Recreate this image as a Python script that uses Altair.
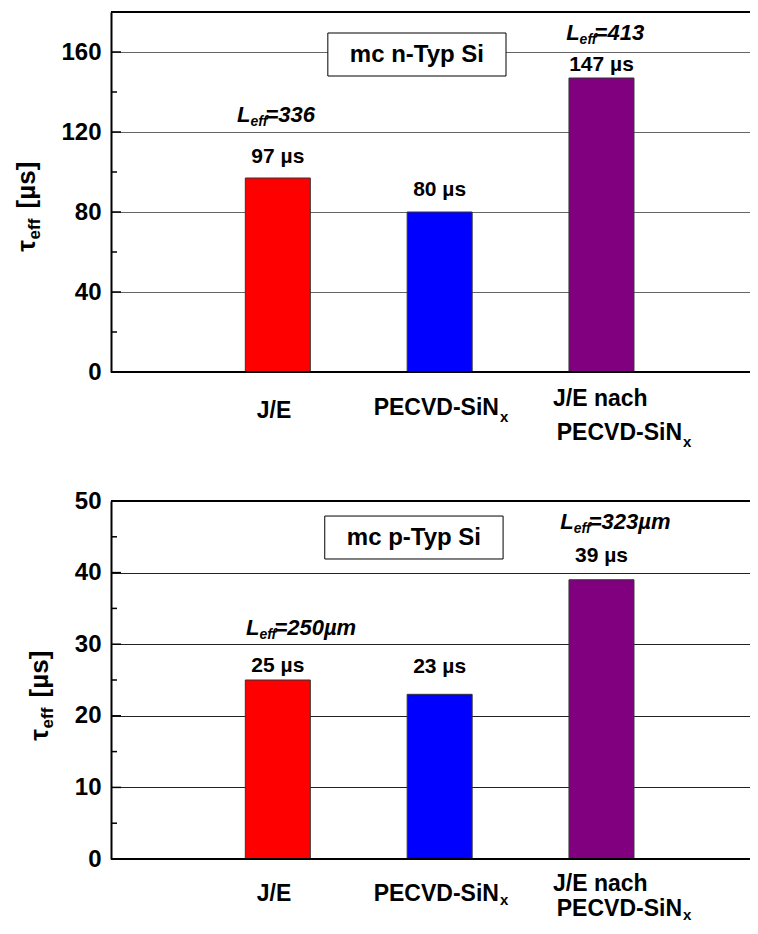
import altair as alt
import pandas as pd

FONT = "Liberation Sans"
PX = 164.4         # pixels per category unit
W = 639            # plot width (px); svg must stay within the 742 px body
XMAX = W / PX      # x domain end (category units)
LEFT, TOP = 111, 12   # page position of the plot origin
GH = 912              # group height (keeps page inside 934 px)

# ---------------- data ----------------
cat_pos = [1, 2, 3]
bar_colors = ["#FF0000", "#0000FF", "#800080"]

# top panel: mc n-Typ Si
n_tau = [97, 80, 147]
n_val_text = ["97 µs", "80 µs", "147 µs"]
n_val_y = [107.5, 91, 153.5]
n_leff_text = ["=336", "=413"]
n_leff_pos = [1, 3]
n_leff_y = [128.5, 169.5]
n_leff_dx = [-12.5, -7]
n_box = {"x": 1.309, "x2": 2.410, "y": 148, "y2": 169.5, "t": "mc n-Typ Si"}

# bottom panel: mc p-Typ Si
p_tau = [25, 23, 39]
p_val_text = ["25 µs", "23 µs", "39 µs"]
p_val_y = [26.9, 26.8, 42.3]
p_leff_text = ["=250µm", "=323µm"]
p_leff_pos = [1, 3]
p_leff_y = [32.2, 47.0]
p_leff_dx = [-3.5, -13]
p_box = {"x": 1.290, "x2": 2.392, "y": 41.9, "y2": 47.9, "t": "mc p-Typ Si"}

xscale = alt.Scale(domain=[0, XMAX], nice=False, zero=False)


def X(f="x"):
    return alt.X(f"{f}:Q", scale=xscale, axis=None, title=None)


def panel(tau, val_text, val_y, leff_text, leff_pos, leff_y, leff_dx, box,
          ymax, major, minor, y_top, y_bot, grid_color, title_x, lab):
    # y_top / y_bot: page y of the panel's top and bottom edges
    yscale = alt.Scale(domain=[0, ymax], nice=False, zero=True,
                       range=[y_bot - TOP, y_top - TOP])
    yaxis = alt.Axis(orient="left", values=major, grid=True, gridColor=grid_color,
                     gridWidth=1, ticks=False, domain=True, domainColor="black",
                     domainWidth=2, labelFont=FONT, labelFontSize=24,
                     labelFontWeight="bold", labelColor="black", labelPadding=10,
                     title=None)

    def Y(f="y"):
        return alt.Y(f"{f}:Q", scale=yscale, axis=yaxis, title=None)

    bars_df = pd.DataFrame({"x": cat_pos, "y": tau, "col": bar_colors})
    bars = alt.Chart(bars_df).mark_bar(size=65, stroke="#333", strokeWidth=1).encode(
        x=X(), y=Y(), color=alt.Color("col:N", scale=None))

    major_ticks = alt.Chart(pd.DataFrame({"y": major})).mark_rule(
        color="black", strokeWidth=1.5).encode(y=Y(), x=alt.value(0), x2=alt.value(10))
    minor_ticks = alt.Chart(pd.DataFrame({"y": minor})).mark_rule(
        color="black", strokeWidth=1.5).encode(y=Y(), x=alt.value(0), x2=alt.value(6))
    frame = alt.Chart(pd.DataFrame({"y": [0, ymax]})).mark_rule(
        color="black", strokeWidth=2).encode(y=Y(), x=alt.value(0), x2=alt.value(W))

    box_df = pd.DataFrame([box])
    box_rect = alt.Chart(box_df).mark_rect(fill="white", stroke="black", strokeWidth=1).encode(
        x=X("x"), x2="x2:Q", y=Y("y"), y2="y2:Q")
    box_text = alt.Chart(box_df).transform_calculate(
        cx="(datum.x + datum.x2) / 2", cy="(datum.y + datum.y2) / 2"
    ).mark_text(font=FONT, fontSize=24, fontWeight="bold", color="black",
                baseline="middle").encode(x=X("cx"), y=Y("cy"), text="t:N")

    val_df = pd.DataFrame({"x": cat_pos, "y": val_y, "t": val_text})
    vals = alt.Chart(val_df).mark_text(font=FONT, fontSize=21, fontWeight="bold",
                                       color="black", baseline="middle").encode(
        x=X(), y=Y(), text="t:N")

    leff_df = pd.DataFrame({"x": [p + d / PX for p, d in zip(leff_pos, leff_dx)],
                            "y": leff_y, "t": leff_text})
    SUBW = 15
    l_main = alt.Chart(leff_df).mark_text(font=FONT, fontSize=22, fontWeight="bold",
                                          fontStyle="italic", color="black", align="right",
                                          baseline="middle", dx=-SUBW, text="L").encode(x=X(), y=Y())
    l_sub = alt.Chart(leff_df).mark_text(font=FONT, fontSize=14, fontWeight="bold",
                                         fontStyle="italic", color="black", align="left",
                                         baseline="middle", dx=-SUBW, dy=7, text="eff").encode(x=X(), y=Y())
    l_rest = alt.Chart(leff_df).mark_text(font=FONT, fontSize=22, fontWeight="bold",
                                          fontStyle="italic", color="black", align="left",
                                          baseline="middle").encode(x=X(), y=Y(), text="t:N")

    def xlab(text, xpos, ay, align, size=23):
        return alt.Chart(pd.DataFrame({"x": [xpos], "t": [text]})).mark_text(
            font=FONT, fontSize=size, fontWeight="bold", color="black",
            align=align, baseline="middle").encode(
            x=X(), y=alt.value(ay - TOP), text="t:N")

    def at(cat, ax):
        return cat + (ax - LEFT - cat * PX) / PX

    xlabels = [
        xlab("J/E", at(1, 271.5), lab["je"], "center"),
        xlab("PECVD-SiN", at(2, 500), lab["pe"], "right"),
        xlab("x", at(2, 501), lab["pe"] + lab["sub"], "left", 15),
        xlab("J/E nach", at(3, 555), lab["nach"], "left"),
        xlab("PECVD-SiN", at(3, 686), lab["l2"], "right"),
        xlab("x", at(3, 687), lab["l2"] + lab["sub"], "left", 15),
    ]

    def ytitle(text, ax, ay, size):
        return alt.Chart(pd.DataFrame({"t": [text]})).mark_text(
            font=FONT, fontSize=size, fontWeight="bold", color="black",
            angle=270, align="center", baseline="middle").encode(
            x=alt.value(ax - LEFT), y=alt.value(ay - TOP), text="t:N")

    ytitles = [ytitle("[µs]", title_x, y_top + 173, 26),
               ytitle("τ", title_x, y_top + 234, 26),
               ytitle("eff", title_x + 8, y_top + 217, 17)]

    return alt.layer(bars, major_ticks, minor_ticks, frame, box_rect, box_text,
                     vals, l_main, l_sub, l_rest, *xlabels, *ytitles)


top = panel(n_tau, n_val_text, n_val_y, n_leff_text, n_leff_pos, n_leff_y, n_leff_dx, n_box,
            180, [0, 40, 80, 120, 160], [20, 60, 100, 140], 12, 372, "#666", 27,
            {"je": 411, "pe": 408, "nach": 399, "l2": 433, "sub": 9})
bottom = panel(p_tau, p_val_text, p_val_y, p_leff_text, p_leff_pos, p_leff_y, p_leff_dx, p_box,
               50, [0, 10, 20, 30, 40, 50], [5, 15, 25, 35, 45], 501, 859, "#222", 40,
               {"je": 894, "pe": 894, "nach": 884, "l2": 909, "sub": 6})

chart = alt.layer(top, bottom).resolve_scale(y="independent").resolve_axis(
    y="independent"
).properties(
    width=W, height=GH,
    autosize=alt.AutoSizeParams(type="none"),
    padding={"left": LEFT - 8, "top": TOP - 8, "right": 0, "bottom": 0},
    view=alt.ViewBackground(stroke="transparent", strokeWidth=0),
).configure_view(stroke="transparent", strokeWidth=0).configure(background="white")

chart.save("out.html", embed_options={"renderer": "svg", "actions": False})
